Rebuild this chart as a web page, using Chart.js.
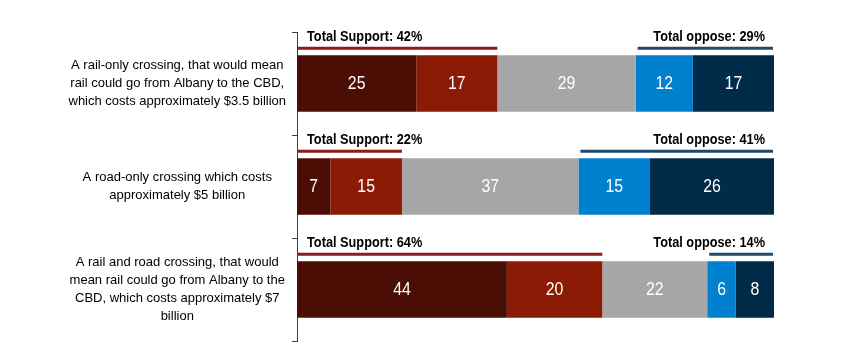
<!DOCTYPE html>
<html><head><meta charset="utf-8">
<script src="https://cdn.jsdelivr.net/npm/chart.js@4.4.0/dist/chart.umd.min.js"></script>
<style>html,body{margin:0;padding:0;background:#fff}#wrap{width:860px;height:363px;position:relative}</style>
</head><body><div id="wrap"><canvas id="c" width="860" height="363"></canvas></div>
<script>
const categories = [
  ["A rail-only crossing, that would mean", "rail could go from Albany to the CBD,", "which costs approximately $3.5 billion"],
  ["A road-only crossing which costs", "approximately $5 billion"],
  ["A rail and road crossing, that would", "mean rail could go from Albany to the", "CBD, which costs approximately $7", "billion"]
];
const seriesNames = ["Strongly support", "Somewhat support", "Neutral", "Somewhat oppose", "Strongly oppose"];
const stronglySupport = [25, 7, 44];
const somewhatSupport = [17, 15, 20];
const neutral = [29, 37, 22];
const somewhatOppose = [12, 15, 6];
const stronglyOppose = [17, 26, 8];
const totalSupport = [42, 22, 64];
const totalOppose = [29, 41, 14];

const colors = ['#4A0E04', '#8C1B05', '#A6A6A6', '#0080CF', '#002B49'];
const FONT = "'Liberation Sans',Arial,sans-serif";

// draw horizontally condensed text (emulates a narrow face)
function narrowText(ctx, text, x, y, align, sx) {
  ctx.save();
  ctx.translate(x, y);
  ctx.scale(sx, 1);
  ctx.textAlign = align;
  ctx.fillText(text, 0, 0);
  ctx.restore();
}

const valuesPlugin = {
  id: 'values',
  afterDatasetsDraw(chart) {
    const ctx = chart.ctx;
    ctx.save();
    ctx.fillStyle = '#ffffff';
    ctx.font = '18px ' + FONT;
    ctx.textBaseline = 'middle';
    chart.data.datasets.forEach((ds, di) => {
      const meta = chart.getDatasetMeta(di);
      meta.data.forEach((el, i) => {
        narrowText(ctx, String(ds.data[i]), (el.x + el.base) / 2, el.y + 1, 'center', 0.88);
      });
    });
    ctx.restore();
  }
};

const totalsPlugin = {
  id: 'totals',
  afterDatasetsDraw(chart) {
    const ctx = chart.ctx;
    const xs = chart.scales.x;
    const meta = chart.getDatasetMeta(0);
    ctx.save();
    ctx.font = 'bold 15px ' + FONT;
    ctx.textBaseline = 'middle';
    meta.data.forEach((el, i) => {
      const top = el.y - el.height / 2;
      const x0 = xs.getPixelForValue(0);
      const x100 = xs.getPixelForValue(100);
      ctx.fillStyle = '#000';
      narrowText(ctx, 'Total Support: ' + totalSupport[i] + '%', x0 + 10, top - 18, 'left', 0.85);
      ctx.strokeStyle = '#8E1A1A';
      ctx.lineWidth = 3;
      ctx.beginPath();
      ctx.moveTo(x0, top - 7);
      ctx.lineTo(xs.getPixelForValue(totalSupport[i]), top - 7);
      ctx.stroke();
      narrowText(ctx, 'Total oppose: ' + totalOppose[i] + '%', x100 - 9, top - 18, 'right', 0.85);
      ctx.strokeStyle = '#1F4A6E';
      ctx.beginPath();
      ctx.moveTo(xs.getPixelForValue(100 - totalOppose[i]) + 2, top - 7);
      ctx.lineTo(x100 - 1, top - 7);
      ctx.stroke();
    });
    ctx.restore();
  }
};

const datasetValues = [stronglySupport, somewhatSupport, neutral, somewhatOppose, stronglyOppose];

new Chart(document.getElementById('c'), {
  type: 'bar',
  data: {
    labels: categories,
    datasets: datasetValues.map((d, i) => ({
      label: seriesNames[i],
      data: d,
      backgroundColor: colors[i],
      borderWidth: 0,
      barPercentage: 0.55,
      categoryPercentage: 1
    }))
  },
  options: {
    indexAxis: 'y',
    responsive: false,
    animation: false,
    devicePixelRatio: 1,
    layout: { padding: { left: 0, right: 86, top: 32, bottom: 22 } },
    plugins: { legend: { display: false }, tooltip: { enabled: false }, title: { display: false } },
    scales: {
      x: { stacked: true, min: 0, max: 100, display: false },
      y: {
        stacked: true,
        offset: true,
        grid: { offset: true, drawOnChartArea: false, drawTicks: true, tickLength: 5, color: '#404040' },
        border: { display: true, color: '#404040', width: 1 },
        ticks: {
          crossAlign: 'center',
          padding: 6,
          color: '#000',
          font: { family: FONT, size: 13, lineHeight: '18px' }
        },
        afterFit(s) { s.width = 297; s.paddingTop = 0; s.paddingBottom = 0; }
      }
    }
  },
  plugins: [valuesPlugin, totalsPlugin]
});
</script>
</body></html>
